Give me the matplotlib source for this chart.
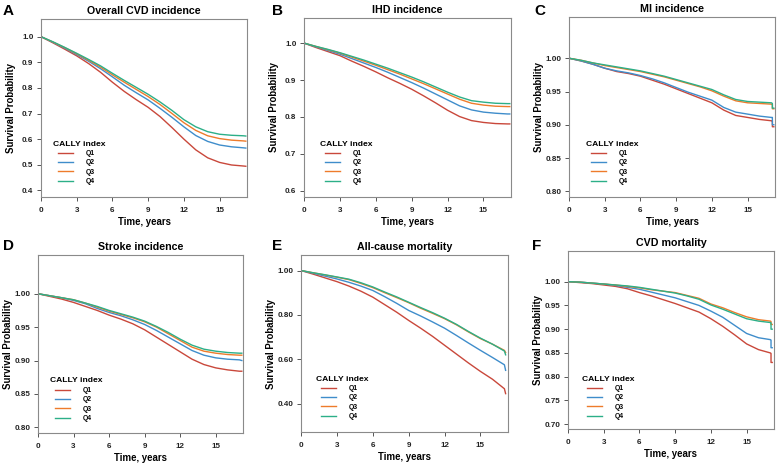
import matplotlib
matplotlib.use("Agg")
import matplotlib.pyplot as plt
from matplotlib.lines import Line2D

plt.rcParams['font.family'] = ['Liberation Sans', 'DejaVu Sans']
plt.rcParams['font.weight'] = 'bold'
plt.rcParams['axes.labelweight'] = 'bold'
plt.rcParams['axes.titleweight'] = 'bold'

# quartile names and colours
groups = ["Q1", "Q2", "Q3", "Q4"]
colors = ["#C9483B", "#3F8DCB", "#EE7B2B", "#2CAF88"]

# follow-up times (years) per panel
t_a = list(range(18)) + [17.2]
t_b = list(range(18)) + [17.2]
t_c = list(range(18)) + [17.08, 17.08, 17.2]
t_d = list(range(18)) + [17.2]
t_e = list(range(18)) + [17.1]
t_f = list(range(18)) + [17.05, 17.05, 17.15]

# A: overall CVD incidence
a_q1 = [1.0, 0.976, 0.951, 0.925, 0.895, 0.861, 0.822, 0.786, 0.754, 0.724, 0.688, 0.645, 0.6, 0.558, 0.527, 0.509, 0.499, 0.495, 0.494]
a_q2 = [1.0, 0.978, 0.955, 0.93, 0.904, 0.875, 0.843, 0.81, 0.781, 0.753, 0.72, 0.685, 0.648, 0.614, 0.591, 0.577, 0.57, 0.566, 0.565]
a_q3 = [1.0, 0.979, 0.957, 0.933, 0.908, 0.881, 0.851, 0.822, 0.794, 0.766, 0.735, 0.7, 0.664, 0.634, 0.613, 0.602, 0.596, 0.593, 0.592]
a_q4 = [1.0, 0.98, 0.958, 0.935, 0.911, 0.886, 0.857, 0.829, 0.802, 0.775, 0.745, 0.712, 0.676, 0.648, 0.629, 0.619, 0.615, 0.613, 0.612]

# B: IHD incidence
b_q1 = [1.0, 0.988, 0.977, 0.966, 0.951, 0.937, 0.922, 0.906, 0.891, 0.875, 0.857, 0.838, 0.818, 0.801, 0.79, 0.785, 0.782, 0.781, 0.781]
b_q2 = [1.0, 0.99, 0.98, 0.97, 0.958, 0.946, 0.934, 0.921, 0.907, 0.893, 0.878, 0.862, 0.846, 0.83, 0.819, 0.813, 0.81, 0.808, 0.808]
b_q3 = [1.0, 0.991, 0.982, 0.973, 0.962, 0.951, 0.94, 0.928, 0.916, 0.903, 0.89, 0.876, 0.862, 0.848, 0.837, 0.832, 0.829, 0.828, 0.828]
b_q4 = [1.0, 0.991, 0.983, 0.974, 0.964, 0.954, 0.943, 0.932, 0.92, 0.908, 0.895, 0.881, 0.867, 0.854, 0.844, 0.84, 0.837, 0.836, 0.836]

# C: MI incidence
c_q1 = [1.0, 0.996, 0.991, 0.985, 0.98, 0.977, 0.973, 0.967, 0.961, 0.954, 0.947, 0.94, 0.933, 0.922, 0.914, 0.911, 0.908, 0.906, 0.906, 0.897, 0.897]
c_q2 = [1.0, 0.996, 0.991, 0.985, 0.981, 0.978, 0.974, 0.969, 0.963, 0.956, 0.949, 0.943, 0.937, 0.926, 0.919, 0.916, 0.913, 0.911, 0.911, 0.9, 0.9]
c_q3 = [1.0, 0.997, 0.993, 0.989, 0.986, 0.983, 0.98, 0.976, 0.972, 0.967, 0.962, 0.957, 0.951, 0.943, 0.936, 0.933, 0.932, 0.931, 0.93, 0.924, 0.924]
c_q4 = [1.0, 0.997, 0.993, 0.99, 0.987, 0.984, 0.981, 0.977, 0.973, 0.968, 0.963, 0.958, 0.953, 0.945, 0.938, 0.935, 0.934, 0.933, 0.932, 0.925, 0.925]

# D: stroke incidence
d_q1 = [1.0, 0.996, 0.992, 0.987, 0.981, 0.975, 0.968, 0.962, 0.955, 0.946, 0.935, 0.924, 0.913, 0.902, 0.894, 0.889, 0.886, 0.884, 0.884]
d_q2 = [1.0, 0.997, 0.994, 0.99, 0.985, 0.978, 0.972, 0.967, 0.961, 0.954, 0.945, 0.935, 0.925, 0.915, 0.908, 0.904, 0.902, 0.901, 0.9]
d_q3 = [1.0, 0.997, 0.994, 0.991, 0.986, 0.98, 0.974, 0.969, 0.964, 0.958, 0.95, 0.94, 0.93, 0.92, 0.914, 0.911, 0.909, 0.908, 0.908]
d_q4 = [1.0, 0.997, 0.994, 0.991, 0.986, 0.981, 0.975, 0.97, 0.965, 0.959, 0.951, 0.942, 0.932, 0.923, 0.917, 0.914, 0.912, 0.911, 0.911]

# E: all-cause mortality
e_q1 = [1.0, 0.984, 0.967, 0.95, 0.93, 0.907, 0.88, 0.846, 0.812, 0.775, 0.74, 0.703, 0.663, 0.623, 0.583, 0.545, 0.51, 0.467, 0.445]
e_q2 = [1.0, 0.988, 0.975, 0.962, 0.947, 0.93, 0.91, 0.882, 0.852, 0.82, 0.795, 0.768, 0.74, 0.707, 0.673, 0.64, 0.608, 0.575, 0.55]
e_q3 = [1.0, 0.99, 0.98, 0.97, 0.959, 0.942, 0.923, 0.9, 0.878, 0.855, 0.83, 0.807, 0.783, 0.755, 0.723, 0.693, 0.668, 0.64, 0.63]
e_q4 = [1.0, 0.99, 0.981, 0.971, 0.961, 0.945, 0.926, 0.903, 0.881, 0.857, 0.833, 0.81, 0.785, 0.757, 0.725, 0.695, 0.668, 0.637, 0.62]

# F: CVD mortality
f_q1 = [1.0, 0.998, 0.996, 0.993, 0.99, 0.985, 0.977, 0.97, 0.962, 0.954, 0.945, 0.936, 0.922, 0.906, 0.888, 0.869, 0.857, 0.85, 0.849, 0.83, 0.83]
f_q2 = [1.0, 0.999, 0.997, 0.995, 0.992, 0.988, 0.984, 0.978, 0.972, 0.966, 0.958, 0.95, 0.938, 0.925, 0.908, 0.891, 0.882, 0.878, 0.877, 0.861, 0.861]
f_q3 = [1.0, 0.999, 0.997, 0.995, 0.993, 0.99, 0.987, 0.983, 0.98, 0.977, 0.971, 0.965, 0.953, 0.945, 0.935, 0.926, 0.92, 0.917, 0.916, 0.91, 0.91]
f_q4 = [1.0, 0.999, 0.997, 0.995, 0.993, 0.991, 0.988, 0.984, 0.98, 0.976, 0.97, 0.963, 0.951, 0.942, 0.932, 0.922, 0.917, 0.914, 0.913, 0.9, 0.9]

titles = ["Overall CVD incidence", "IHD incidence", "MI incidence",
          "Stroke incidence", "All-cause mortality", "CVD mortality"]
letters = ["A", "B", "C", "D", "E", "F"]
x_ticks = [0, 3, 6, 9, 12, 15]
y_ticks_a = [0.4, 0.5, 0.6, 0.7, 0.8, 0.9, 1.0]
y_ticks_b = [0.6, 0.7, 0.8, 0.9, 1.0]
y_ticks_cd = [0.80, 0.85, 0.90, 0.95, 1.00]
y_ticks_e = [0.40, 0.60, 0.80, 1.00]
y_ticks_f = [0.70, 0.75, 0.80, 0.85, 0.90, 0.95, 1.00]

panels = [
    (t_a, [a_q1, a_q2, a_q3, a_q4], y_ticks_a, "%.1f", (0.374, 1.069)),
    (t_b, [b_q1, b_q2, b_q3, b_q4], y_ticks_b, "%.1f", (0.583, 1.068)),
    (t_c, [c_q1, c_q2, c_q3, c_q4], y_ticks_cd, "%.2f", (0.7914, 1.062)),
    (t_d, [d_q1, d_q2, d_q3, d_q4], y_ticks_cd, "%.2f", (0.7915, 1.058)),
    (t_e, [e_q1, e_q2, e_q3, e_q4], y_ticks_e, "%.2f", (0.272, 1.07)),
    (t_f, [f_q1, f_q2, f_q3, f_q4], y_ticks_f, "%.2f", (0.690, 1.0645)),
]

W, H = 779, 465
# axes boxes in pixels: left, top, right, bottom
boxes = [(41, 19, 247, 197), (304, 18, 511, 197), (569, 17, 775, 197),
         (38, 255, 243, 433), (301, 255, 508, 432), (568, 251, 774, 429)]
# legend title position (pixels)
leg_pos = [(53, 144), (320, 144), (586, 144), (50, 381), (316, 379), (582, 379)]
letter_pos = [(3, 15), (272, 15), (534, 15), (3, 250), (272, 250), (532, 250)]

fig = plt.figure(figsize=(W / 100, H / 100), dpi=100)

for i, (t, series, yt, fmt, ylim) in enumerate(panels):
    l, tp, r, b = boxes[i]
    ax = fig.add_axes([l / W, 1 - b / H, (r - l) / W, (b - tp) / H])
    for s, c, g in zip(series, colors, groups):
        ax.plot(t, s, color=c, lw=1.0, label=g)
    ax.set_xlim(0, 17.3)
    ax.set_ylim(*ylim)
    ax.set_xticks(x_ticks)
    ax.set_yticks(yt)
    ax.set_yticklabels([fmt % v for v in yt])
    for sp in ax.spines.values():
        sp.set_color("#8a8a8a")
        sp.set_linewidth(0.8)
    ax.tick_params(axis="both", labelsize=5.8, length=3, width=0.7,
                   color="#555555", labelcolor="#222222")
    ax.tick_params(axis="x", pad=4)
    ax.tick_params(axis="y", pad=2.5)
    ax.set_title(titles[i], fontsize=7.7, pad=3.5)
    ax.set_xlabel("Time, years", fontsize=6.9)
    ax.set_ylabel("Survival Probability", fontsize=6.9)
    w_px, h_px = r - l, b - tp
    ax.xaxis.set_label_coords(0.5, -20 / h_px)
    ax.yaxis.set_label_coords(-25 / w_px, 0.5)

    # legend
    lx, ly = leg_pos[i]
    ax.text((lx - l) / w_px, (b - ly) / h_px, "CALLY index", fontsize=6.1,
            transform=ax.transAxes, ha="left", va="center")
    handles = [Line2D([], [], color=c, lw=1.0) for c in colors]
    ax.legend(handles, groups, loc="upper left", frameon=False,
              bbox_to_anchor=((lx + 5 - l) / w_px, (b - ly - 6) / h_px),
              fontsize=4.9, handlelength=2.2, handletextpad=1.9,
              labelspacing=0.35, borderpad=0, borderaxespad=0)

    px, py = letter_pos[i]
    fig.text(px / W, 1 - py / H, letters[i], fontsize=11, fontweight="bold",
             ha="left", va="baseline")

fig.savefig("out.png", dpi=100)
